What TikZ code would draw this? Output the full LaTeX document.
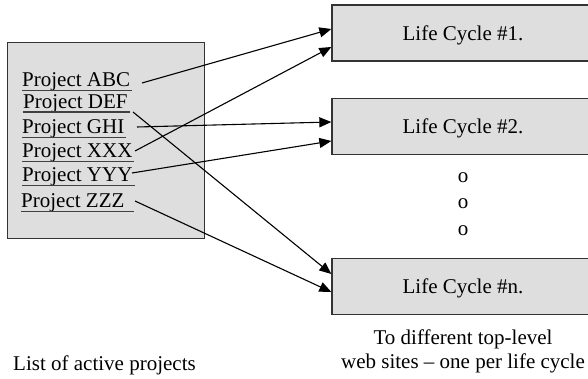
\documentclass[tikz,border=0pt]{standalone}
\usepackage{fontspec}
\setmainfont{Liberation Serif}
\usetikzlibrary{arrows.meta,calc}
\begin{document}
\begin{tikzpicture}[x=1pt,y=1pt,
  font=\fontsize{21}{24}\selectfont,
  panel/.style={draw=black!80,line width=1.3pt,fill=black!13},
  lcbox/.style={panel,minimum width=262pt,minimum height=56pt,inner sep=0pt,text depth=0pt},
  proj/.style={anchor=base west,inner sep=0pt},
  uline/.style={draw=black!75,line width=1.3pt},
  link/.style={draw=black,line width=1.1pt,-{Triangle[length=12pt,width=10pt]}},
  plain/.style={anchor=base,inner sep=0pt}]
\useasboundingbox (0,0) rectangle (588,379);
\clip (0,0) rectangle (588,379);

% list of projects
\node[panel,minimum width=197pt,minimum height=196pt,inner sep=0pt] (list) at (106,238.5) {};
\node[proj] (pabc) at (22,292)   {Project ABC};
\node[proj] (pdef) at (23,270.5) {Project DEF};
\node[proj] (pghi) at (22,245)   {Project GHI};
\node[proj] (pxxx) at (22,221)   {Project XXX};
\node[proj] (pyyy) at (22,197)   {Project YYY};
\node[proj] (pzzz) at (21,171)   {Project ZZZ};

% underlines
\foreach \p/\e in {pabc/2,pdef/2,pghi/2,pxxx/1,pyyy/2,pzzz/9}
  \draw[uline] ($(\p.base west)+(0,-3.5)$) -- ($(\p.base east)+(\e,-3.5)$);

% life cycle boxes
\node[lcbox] (lc1) at (463,346)   {Life Cycle \#1.};
\node[lcbox] (lc2) at (463,252.5) {Life Cycle \#2.};
\node[lcbox] (lcn) at (463,92.5)  {Life Cycle \#n.};

% ellipsis between the boxes
\node[inner sep=0pt] (dot1) at (463,201) {o};
\node[inner sep=0pt] (dot2) at (463,175) {o};
\node[inner sep=0pt] (dot3) at (463,148) {o};

% captions
\node[plain] (cap1) at (463,34)   {To different top-level};
\node[plain] (cap2) at (463,10)   {web sites -- one per life cycle};
\node[plain] (cap3) at (104.5,8.5) {List of active projects};

% start points of the links
\coordinate (sabc) at (142,296);
\coordinate (sdef) at (133,267);
\coordinate (sghi) at (137,252);
\coordinate (sxxx) at (135,228);
\coordinate (syyy) at (132,206);
\coordinate (szzz) at (135,178);

% links
\draw[link] (sabc) -- ($(lc1.west)+(0,4)$);
\draw[link] (sxxx) -- ($(lc1.west)+(0,-14)$);
\draw[link] (sghi) -- ($(lc2.west)+(0,4.5)$);
\draw[link] (syyy) -- ($(lc2.west)+(0,-14.5)$);
\draw[link] (sdef) -- ($(lcn.west)+(0,12.5)$);
\draw[link] (szzz) -- ($(lcn.west)+(0,-5.5)$);
\end{tikzpicture}
\end{document}
